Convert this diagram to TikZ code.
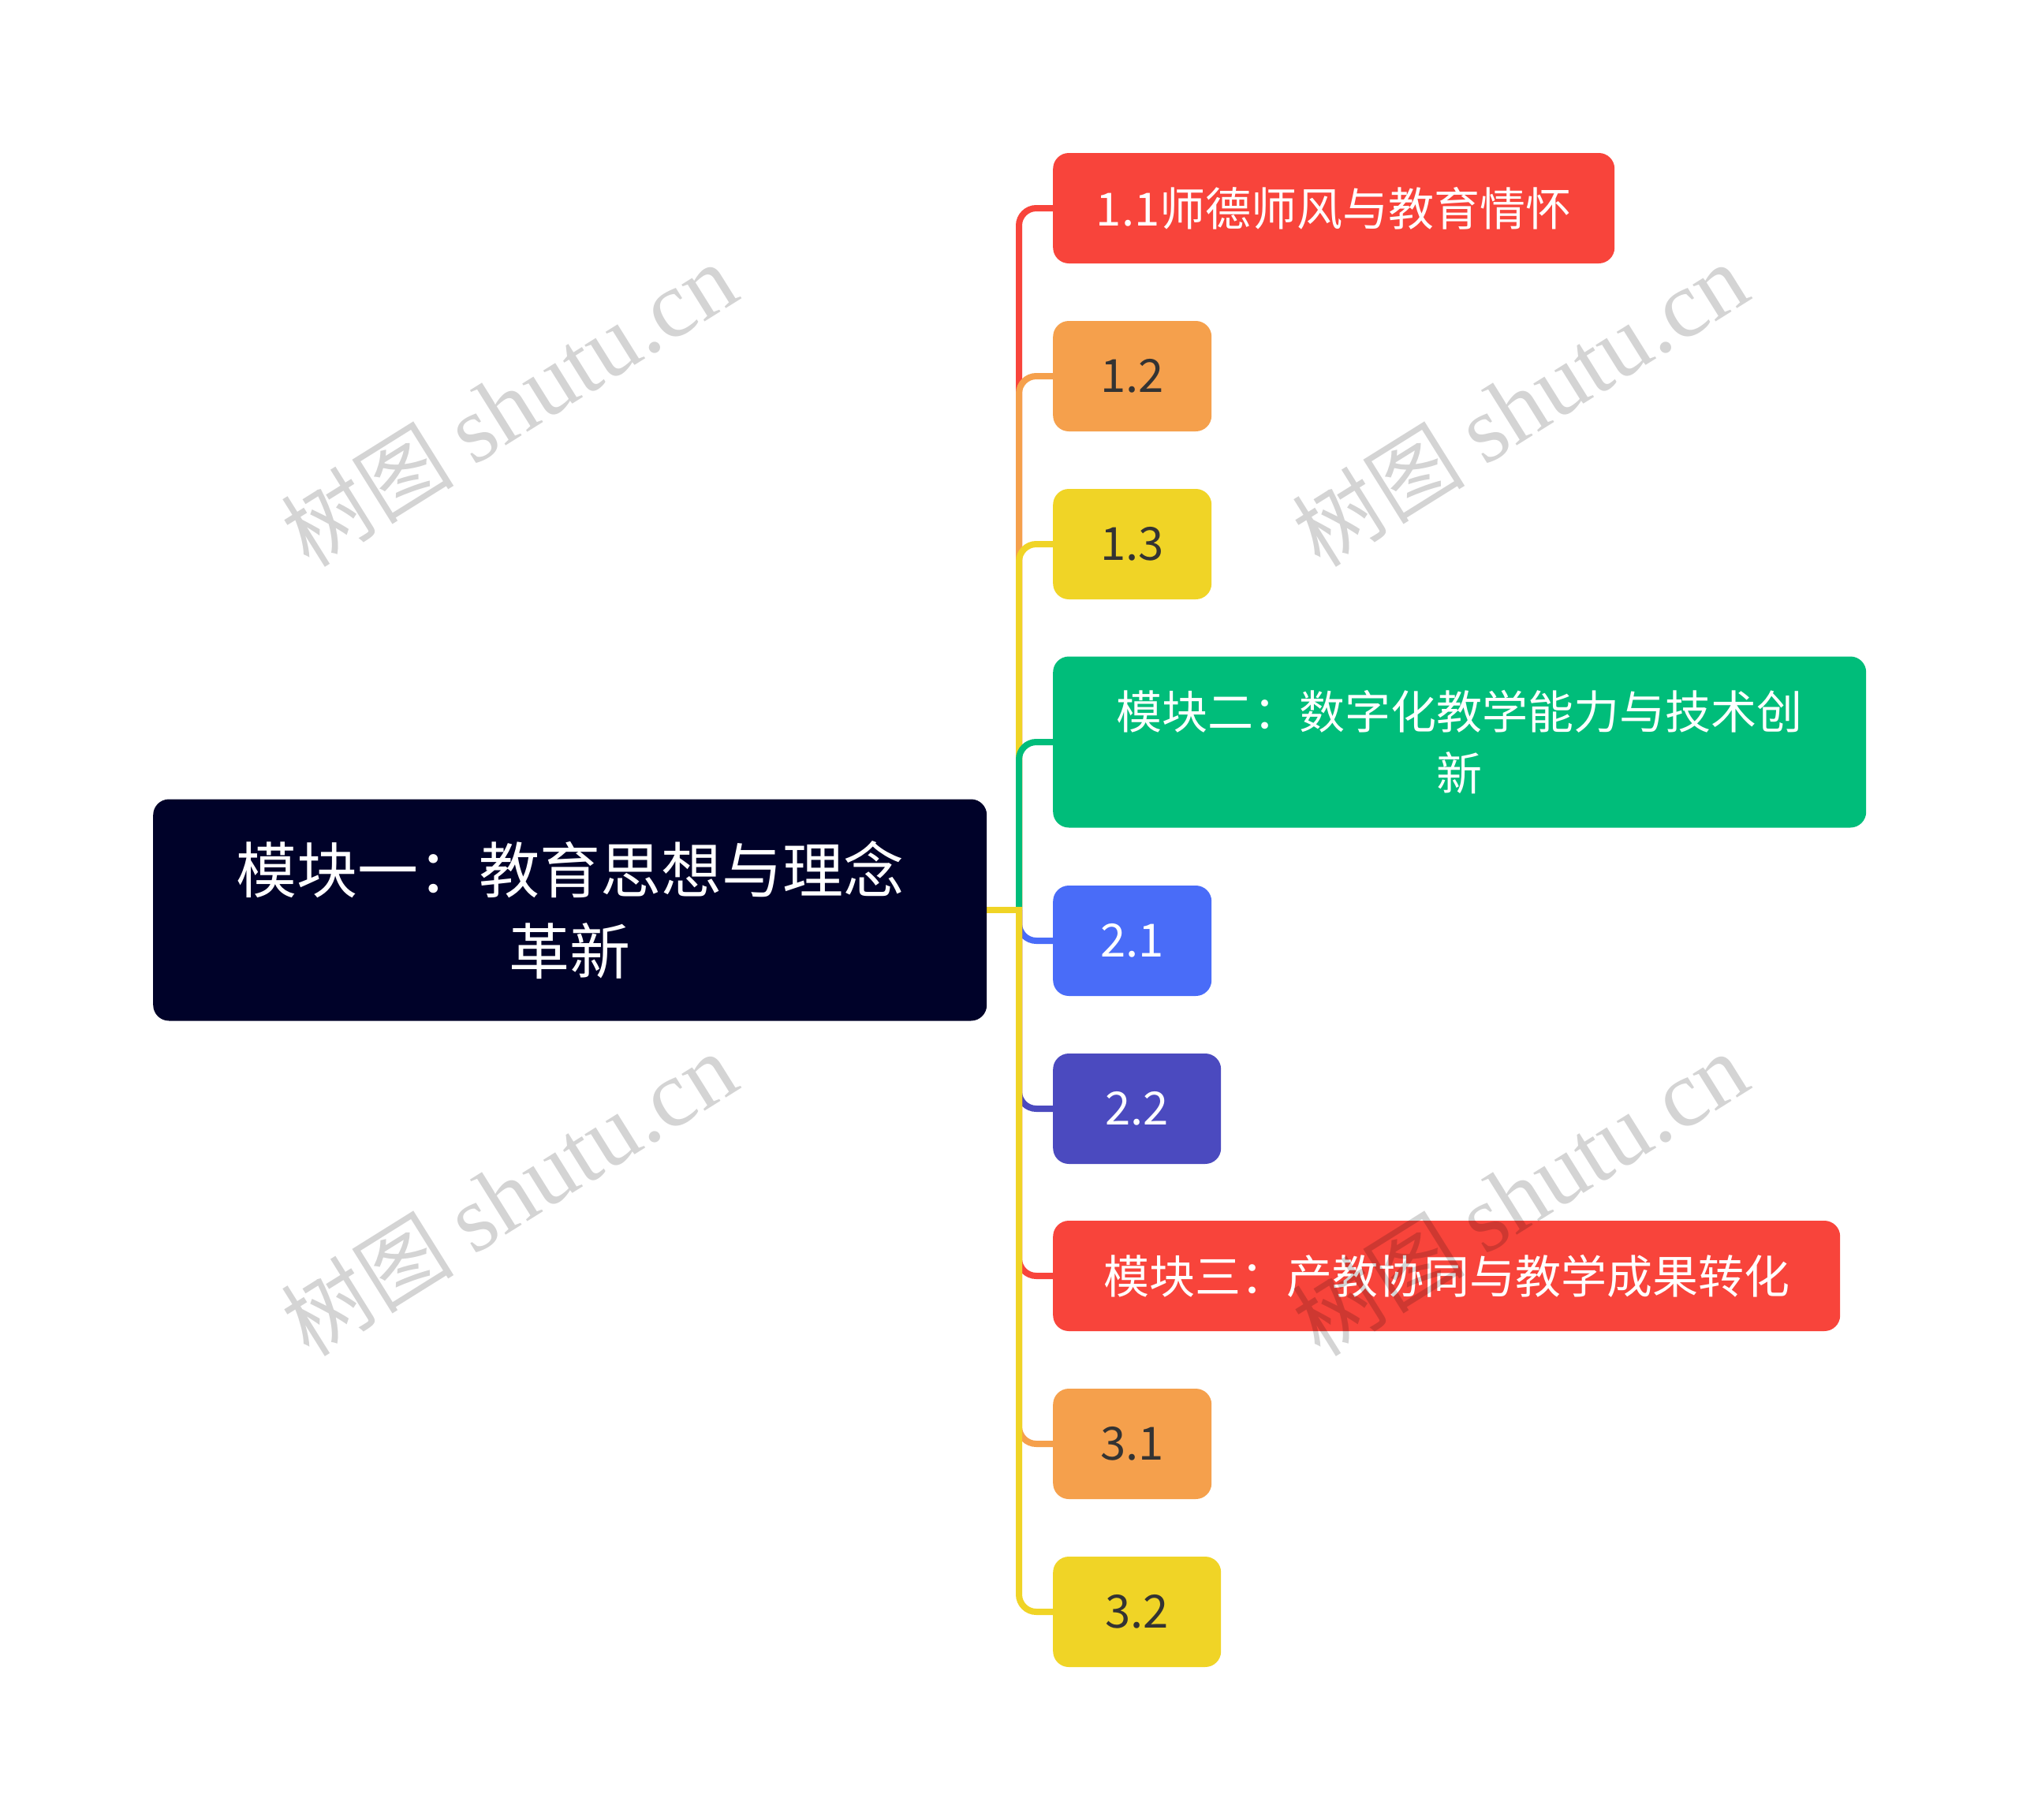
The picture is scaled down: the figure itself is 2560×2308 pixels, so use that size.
\documentclass[tikz,border=0pt]{standalone}
\usepackage{fontspec}
\setmainfont{Noto Sans CJK SC}
\newfontfamily\cjkf{Noto Sans CJK SC}
\newfontfamily\wmlat{Liberation Serif}
\usetikzlibrary{backgrounds}
\definecolor{cRoot}{HTML}{000229}
\definecolor{cRed}{HTML}{F8443B}
\definecolor{cOrange}{HTML}{F5A04C}
\definecolor{cYellow}{HTML}{F0D426}
\definecolor{cGreen}{HTML}{00BD7A}
\definecolor{cBlue}{HTML}{496CF8}
\definecolor{cPurple}{HTML}{4B4ABF}
\definecolor{cDark}{HTML}{333333}
\begin{document}
\begin{tikzpicture}[x=1pt,y=-1pt,
  box/.style={rounded corners=20pt, inner sep=0pt, anchor=west, text=white, align=center,
    minimum height=140pt, font=\fontsize{58pt}{78pt}\selectfont},
  darktext/.style={text=cDark},
  link/.style={line width=8pt, rounded corners=22pt},
  wm/.style={rotate=32, text=black, text opacity=0.17, inner sep=0pt}]
\useasboundingbox (0,0) rectangle (2560,2308);

\node[box, fill=cRoot, minimum width=1057pt, minimum height=281pt,
  font=\fontsize{77pt}{103pt}\selectfont] (root) at (194,1154) {模块一：教育思想与理念\\革新};

\node[box, fill=cRed, minimum width=712pt] (n11) at (1335,264) {1.1师德师风与教育情怀};
\node[box, fill=cOrange, darktext, minimum width=201pt] (n12) at (1335,477) {1.2};
\node[box, fill=cYellow, darktext, minimum width=201pt] (n13) at (1335,690) {1.3};
\node[box, fill=cGreen, minimum width=1031pt, minimum height=217pt] (m2) at (1335,941) {模块二：数字化教学能力与技术创\\新};
\node[box, fill=cBlue, minimum width=201pt] (n21) at (1335,1193) {2.1};
\node[box, fill=cPurple, minimum width=213pt] (n22) at (1335,1406) {2.2};
\node[box, fill=cRed, minimum width=998pt] (m3) at (1335,1618) {模块三：产教协同与教学成果转化};
\node[box, fill=cOrange, darktext, minimum width=201pt] (n31) at (1335,1831) {3.1};
\node[box, fill=cYellow, darktext, minimum width=213pt] (n32) at (1335,2044) {3.2};

\coordinate (J) at (1292,1154);
\coordinate (Jr) at (1296,1154);

\begin{scope}[on background layer]
\fill[white] (0,0) rectangle (2560,2308);
\draw[link, draw=cRed] (J) |- (n11.west);
\draw[link, draw=cOrange] (J) |- (n12.west);
\draw[link, draw=cYellow] (J) |- (n13.west);
\draw[link, draw=cGreen] (J) |- (m2.west);
\draw[link, draw=cBlue] (J) |- (n21.west);
\draw[link, draw=cPurple] (J) |- (n22.west);
\draw[link, draw=cRed] (J) |- (m3.west);
\draw[link, draw=cOrange] (J) |- (n31.west);
\draw[link, draw=cYellow] (J) |- (n32.west);
\draw[line width=8pt, draw=cYellow] (root.east) -- (Jr);
\end{scope}

\node[wm] (w1) at (645,514) {{\fontsize{110pt}{110pt}\selectfont\cjkf 树图}\hspace{25pt}{\fontsize{120pt}{120pt}\selectfont\wmlat shutu.cn}};
\node[wm] (w2) at (1927,514) {{\fontsize{110pt}{110pt}\selectfont\cjkf 树图}\hspace{25pt}{\fontsize{120pt}{120pt}\selectfont\wmlat shutu.cn}};
\node[wm] (w3) at (645,1515) {{\fontsize{110pt}{110pt}\selectfont\cjkf 树图}\hspace{25pt}{\fontsize{120pt}{120pt}\selectfont\wmlat shutu.cn}};
\node[wm] (w4) at (1927,1515) {{\fontsize{110pt}{110pt}\selectfont\cjkf 树图}\hspace{25pt}{\fontsize{120pt}{120pt}\selectfont\wmlat shutu.cn}};
\end{tikzpicture}
\end{document}
